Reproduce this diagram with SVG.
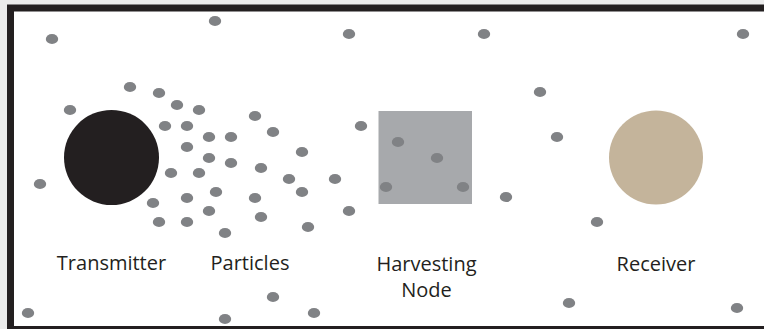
<svg xmlns="http://www.w3.org/2000/svg" width="764" height="329" viewBox="0 0 764 329">
  <style>
    .frame { fill: #ffffff; stroke: #231f20; stroke-width: 7; }
    .p { fill: #808285; }
    .label { font-family: "Open Sans", "Noto Sans", sans-serif; font-size: 20px; fill: #231f20; text-anchor: middle; }
  </style>
  <defs>
    <ellipse id="dot" rx="6.2" ry="5.1" class="p"/>
  </defs>

  <!-- page background and frame -->
  <rect x="0" y="0" width="764" height="329" fill="#ebebeb"/>
  <rect class="frame" x="10.5" y="8" width="760" height="321.5"/>

  <!-- transmitter -->
  <g id="transmitter">
    <circle cx="111.5" cy="157.5" r="47.5" fill="#231f20"/>
    <text class="label" x="111.5" y="270">Transmitter</text>
  </g>

  <!-- harvesting node -->
  <g id="harvesting-node">
    <rect x="378.5" y="111" width="93.5" height="93" fill="#a7a9ac"/>
    <text class="label" x="426.5" y="271">Harvesting</text>
    <text class="label" x="426.5" y="297">Node</text>
  </g>

  <!-- receiver -->
  <g id="receiver">
    <circle cx="656" cy="157.5" r="47" fill="#c4b49b"/>
    <text class="label" x="656" y="271">Receiver</text>
  </g>

  <!-- particles -->
  <g id="particles">
    <text class="label" x="250" y="270">Particles</text>
    <use href="#dot" x="52" y="39"/>
    <use href="#dot" x="215" y="21"/>
    <use href="#dot" x="349" y="34"/>
    <use href="#dot" x="484" y="34"/>
    <use href="#dot" x="743" y="34"/>
    <use href="#dot" x="130" y="87"/>
    <use href="#dot" x="159" y="93"/>
    <use href="#dot" x="70" y="110"/>
    <use href="#dot" x="177" y="105"/>
    <use href="#dot" x="199" y="110"/>
    <use href="#dot" x="255" y="116"/>
    <use href="#dot" x="165" y="126"/>
    <use href="#dot" x="187" y="126"/>
    <use href="#dot" x="273" y="132"/>
    <use href="#dot" x="361" y="126"/>
    <use href="#dot" x="209" y="137"/>
    <use href="#dot" x="231" y="137"/>
    <use href="#dot" x="187" y="147"/>
    <use href="#dot" x="302" y="152"/>
    <use href="#dot" x="209" y="158"/>
    <use href="#dot" x="231" y="163"/>
    <use href="#dot" x="261" y="168"/>
    <use href="#dot" x="171" y="173"/>
    <use href="#dot" x="199" y="173"/>
    <use href="#dot" x="289" y="179"/>
    <use href="#dot" x="335" y="179"/>
    <use href="#dot" x="40" y="184"/>
    <use href="#dot" x="216" y="192"/>
    <use href="#dot" x="302" y="192"/>
    <use href="#dot" x="187" y="198"/>
    <use href="#dot" x="255" y="198"/>
    <use href="#dot" x="153" y="203"/>
    <use href="#dot" x="209" y="211"/>
    <use href="#dot" x="261" y="217"/>
    <use href="#dot" x="349" y="211"/>
    <use href="#dot" x="159" y="222"/>
    <use href="#dot" x="187" y="222"/>
    <use href="#dot" x="308" y="227"/>
    <use href="#dot" x="225" y="233"/>
    <use href="#dot" x="540" y="92"/>
    <use href="#dot" x="557" y="137"/>
    <use href="#dot" x="506" y="197"/>
    <use href="#dot" x="597" y="222"/>
    <use href="#dot" x="398" y="142"/>
    <use href="#dot" x="437" y="158"/>
    <use href="#dot" x="386" y="187"/>
    <use href="#dot" x="463" y="187"/>
    <use href="#dot" x="28" y="313"/>
    <use href="#dot" x="225" y="319"/>
    <use href="#dot" x="273" y="297"/>
    <use href="#dot" x="314" y="313"/>
    <use href="#dot" x="569" y="303"/>
    <use href="#dot" x="737" y="308"/>
  </g>

  <!-- no connectors in this figure -->
  <g id="connectors"/>
</svg>
